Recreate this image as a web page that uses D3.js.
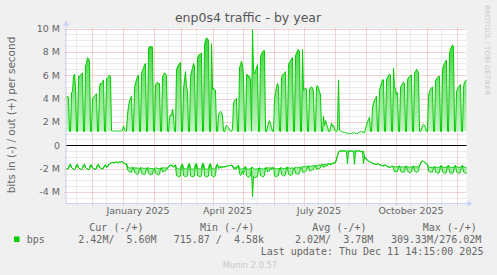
<!DOCTYPE html>
<html>
<head>
<meta charset="utf-8">
<script src="https://cdn.jsdelivr.net/npm/d3@7"></script>
<style>
body { margin: 0; background: #f0f0f0; }
text { font-family: "DejaVu Sans", sans-serif; }
.mono { font-family: "DejaVu Sans Mono", monospace; white-space: pre; }
</style>
</head>
<body>
<div id="chart-area"></div>
<script>
/*
*    enp0s4 traffic - by year (munin)
*/

// one value per day, starting Wed 6 Nov 2024, in Mbit/s ; one week per line (Mon..Sun)
var startDay = new Date(2024, 10, 6);
var endDay = new Date(2025, 11, 11);

// out : daytime level
var bpsOut = [
                4.1, 4.2, 4.1, 1.2, 1.15,
    4.5, 4.6, 5.9, 6.1, 5.0, 1.2, 1.15,
    5.9, 5.9, 6.0, 6.1, 6.2, 1.2, 1.15,
    6.8, 7.0, 7.5, 7.4, 7.2, 1.2, 1.15,
    4.0, 4.1, 4.2, 4.3, 4.4, 1.2, 1.15,
    5.0, 5.3, 5.2, 5.4, 5.6, 1.2, 1.15,
    5.7, 5.8, 5.9, 6.0, 5.9, 1.25, 1.2,
    1.25, 1.2, 1.2, 1.2, 1.25, 1.2, 1.2,
    1.25, 1.2, 1.3, 1.65, 1.25, 1.2, 1.2,
    2.6, 3.3, 3.8, 4.0, 4.2, 1.2, 1.15,
    4.9, 5.3, 5.6, 5.9, 6.0, 1.2, 1.15,
    6.2, 6.4, 6.6, 6.9, 7.0, 1.2, 1.15,
    8.2, 8.5, 8.3, 8.5, 8.4, 1.2, 1.15,
    5.2, 5.3, 5.4, 5.2, 5.3, 1.2, 1.15,
    5.9, 6.0, 6.2, 6.1, 6.0, 1.2, 1.15,
    2.4, 2.6, 2.5, 3.1, 2.5, 1.2, 1.15,
    6.5, 6.7, 6.9, 7.0, 7.1, 1.2, 1.15,
    4.8, 5.6, 6.3, 5.0, 4.7, 1.2, 1.15,
    5.9, 6.3, 6.6, 7.0, 6.8, 1.2, 1.15,
    7.5, 7.7, 7.8, 7.8, 7.9, 1.2, 1.15,
    8.6, 9.0, 9.2, 9.1, 9.0, 1.2, 1.15,
    8.7, 4.8, 4.9, 4.7, 4.7, 1.2, 1.15,
    2.6, 2.8, 2.9, 2.8, 2.5, 1.2, 1.15,
    1.5, 1.7, 1.6, 1.5, 1.3, 1.2, 1.2,
    1.4, 3.6, 3.8, 3.9, 4.0, 1.2, 1.15,
    6.6, 6.9, 7.2, 6.8, 6.0, 1.2, 1.15,
    6.0, 6.1, 5.8, 5.9, 5.6, 1.2, 9.9,
    6.3, 6.1, 6.4, 6.6, 6.9, 1.2, 1.15,
    7.6, 7.8, 8.0, 8.1, 8.1, 1.2, 1.15,
    1.6, 1.9, 2.1, 1.8, 1.5, 1.2, 1.15,
    3.9, 4.5, 5.0, 5.3, 5.0, 1.2, 1.15,
    5.8, 6.0, 6.1, 6.2, 6.3, 1.2, 1.15,
    6.9, 7.1, 7.2, 7.4, 7.5, 1.2, 1.15,
    7.7, 7.9, 8.1, 8.2, 8.0, 1.2, 1.15,
    8.2, 4.7, 4.8, 4.9, 4.8, 1.2, 1.15,
    4.8, 4.9, 5.0, 4.9, 4.6, 1.2, 1.15,
    5.0, 5.1, 4.9, 4.6, 4.3, 1.2, 1.15,
    2.5, 1.7, 2.1, 1.8, 1.6, 1.2, 1.15,
    1.5, 1.9, 1.6, 1.7, 1.4, 1.2, 1.15,
    1.4, 5.6, 1.3, 1.2, 1.2, 1.1, 1.1,
    1.1, 1.1, 1.0, 1.05, 1.0, 1.0, 1.0,
    1.0, 1.05, 1.0, 1.1, 1.0, 1.0, 1.0,
    1.1, 1.1, 1.2, 1.1, 1.2, 1.05, 1.05,
    1.4, 1.7, 2.0, 2.2, 2.4, 1.2, 1.15,
    3.2, 3.6, 3.9, 4.0, 4.2, 1.2, 1.15,
    4.7, 5.0, 5.3, 5.6, 5.6, 1.2, 1.15,
    5.6, 5.8, 6.0, 6.1, 6.0, 1.2, 1.15,
    6.6, 5.0, 4.8, 4.3, 4.5, 1.2, 1.15,
    5.0, 5.1, 5.3, 5.4, 5.3, 1.2, 1.15,
    5.6, 5.8, 5.9, 6.0, 6.0, 1.2, 1.15,
    6.2, 6.3, 6.5, 6.4, 6.2, 1.2, 1.15,
    1.4, 1.7, 1.8, 1.7, 1.5, 1.2, 1.15,
    4.2, 4.6, 4.8, 4.9, 5.0, 1.2, 1.15,
    5.5, 5.7, 5.8, 5.9, 5.9, 1.2, 1.15,
    6.5, 6.8, 7.0, 7.2, 7.3, 1.2, 1.15,
    7.9, 8.2, 8.4, 8.6, 8.4, 1.2, 1.15,
    4.6, 4.8, 5.0, 5.1, 5.2, 1.2, 1.15,
    5.0, 5.4, 5.5, 5.6
];
// out : night-time floor under the weekday columns
var outNightLevel = 1.2;

// in : daytime level (drawn below zero)
var bpsIn = [
                2.0, 2.05, 2.0, 1.7, 1.65,
    1.9, 2.0, 2.05, 2.1, 2.0, 1.7, 1.65,
    1.95, 2.0, 2.05, 2.1, 2.0, 1.7, 1.65,
    1.9, 2.0, 2.05, 2.1, 2.05, 1.7, 1.7,
    1.95, 2.0, 2.05, 2.05, 2.0, 1.7, 1.65,
    1.9, 1.95, 2.0, 2.05, 1.95, 1.75, 1.7,
    1.9, 1.85, 1.7, 1.6, 1.55, 1.5, 1.5,
    1.5, 1.5, 1.45, 1.45, 1.5, 1.45, 1.45,
    1.45, 1.4, 1.45, 1.5, 1.55, 1.6, 1.6,
    2.1, 2.2, 2.3, 2.3, 2.35, 1.9, 1.95,
    2.3, 2.4, 2.45, 2.5, 2.45, 2.0, 1.95,
    2.4, 2.45, 2.5, 2.5, 2.45, 2.0, 1.95,
    2.4, 2.5, 2.55, 2.5, 2.5, 2.05, 2.0,
    2.4, 2.45, 2.5, 2.55, 2.5, 2.0, 1.95,
    2.3, 2.25, 2.2, 2.2, 2.15, 1.95, 1.9,
    1.8, 1.75, 1.75, 1.8, 1.9, 1.75, 1.7,
    2.6, 2.65, 2.7, 2.7, 2.65, 1.7, 1.65,
    2.6, 2.65, 2.7, 2.7, 2.6, 1.65, 1.6,
    2.6, 2.7, 2.7, 2.7, 2.65, 1.65, 1.6,
    2.6, 2.65, 2.7, 2.7, 2.6, 1.6, 1.6,
    2.6, 2.7, 2.75, 2.7, 2.65, 1.65, 1.6,
    2.6, 2.65, 2.7, 2.7, 2.6, 1.7, 1.65,
    2.0, 1.95, 1.9, 1.95, 1.9, 1.85, 1.85,
    1.85, 1.8, 1.8, 1.75, 1.75, 1.75, 1.7,
    1.8, 2.0, 2.1, 2.0, 2.05, 1.8, 1.75,
    2.4, 2.6, 2.5, 2.2, 2.5, 1.9, 1.85,
    2.6, 2.7, 2.75, 2.7, 2.65, 1.9, 4.4,
    2.7, 2.75, 2.8, 2.75, 2.7, 2.0, 1.95,
    2.6, 2.65, 2.7, 2.7, 2.6, 1.95, 1.95,
    2.3, 2.2, 2.2, 2.0, 2.1, 1.95, 1.9,
    2.6, 2.7, 2.7, 2.65, 2.6, 2.0, 1.95,
    2.5, 2.6, 2.65, 2.6, 2.55, 1.95, 1.9,
    2.5, 2.55, 2.6, 2.55, 2.5, 2.0, 1.95,
    2.4, 2.45, 2.5, 2.45, 2.4, 1.95, 1.9,
    2.3, 2.35, 2.3, 2.25, 2.2, 1.85, 1.8,
    2.2, 2.2, 2.15, 2.1, 2.1, 1.8, 1.75,
    2.1, 2.05, 2.0, 2.0, 1.95, 1.7, 1.65,
    1.9, 1.85, 1.8, 1.8, 1.75, 1.6, 1.6,
    1.7, 1.65, 1.6, 1.55, 1.55, 1.5, 1.2,
    0.9, 0.6, 0.5, 0.5, 0.5, 0.5, 0.5,
    0.5, 0.5, 0.55, 1.6, 0.5, 0.5, 0.5,
    0.5, 0.5, 0.55, 1.65, 0.5, 0.5, 0.5,
    0.5, 0.5, 0.55, 0.5, 0.55, 1.6, 1.0,
    1.1, 1.2, 1.3, 1.35, 1.4, 1.45, 1.5,
    1.55, 1.6, 1.6, 1.65, 1.65, 1.6, 1.6,
    1.7, 1.7, 1.75, 1.75, 1.8, 1.7, 1.7,
    1.8, 1.85, 1.85, 1.9, 1.9, 1.8, 1.8,
    2.0, 2.3, 2.2, 2.3, 2.25, 1.85, 1.8,
    2.2, 2.3, 2.35, 2.3, 2.3, 1.85, 1.8,
    2.2, 2.3, 2.35, 2.35, 2.3, 1.85, 1.8,
    2.2, 2.3, 2.35, 2.3, 2.2, 1.8, 1.6,
    1.4, 1.35, 1.4, 1.45, 1.5, 1.6, 1.7,
    2.2, 2.3, 2.35, 2.3, 2.3, 1.9, 1.85,
    2.3, 2.35, 2.4, 2.4, 2.35, 1.8, 1.75,
    2.3, 2.35, 2.4, 2.4, 2.35, 1.8, 1.75,
    2.3, 2.4, 2.4, 2.4, 2.35, 1.8, 1.75,
    2.3, 2.35, 2.4, 2.4, 2.35, 1.8, 1.75,
    2.3, 2.35, 2.4, 2.42
];

// in : night-time level
var bpsInNight = [
                2.0, 2.05, 2.0, 1.7, 1.65,
    1.9, 2.0, 2.05, 2.1, 2.0, 1.7, 1.65,
    1.95, 2.0, 2.05, 2.1, 2.0, 1.7, 1.65,
    1.9, 2.0, 2.05, 2.1, 2.05, 1.7, 1.7,
    1.95, 2.0, 2.05, 2.05, 2.0, 1.7, 1.65,
    1.9, 1.95, 2.0, 2.05, 1.95, 1.75, 1.7,
    1.9, 1.85, 1.7, 1.6, 1.55, 1.5, 1.5,
    1.5, 1.5, 1.45, 1.45, 1.5, 1.45, 1.45,
    1.45, 1.4, 1.45, 1.5, 1.55, 1.6, 1.6,
    1.9, 1.9, 1.95, 1.95, 1.95, 1.9, 1.95,
    1.95, 1.95, 1.95, 2.0, 1.95, 2.0, 1.95,
    1.95, 1.95, 2.0, 2.0, 1.95, 2.0, 1.95,
    1.95, 2.0, 2.0, 2.0, 2.0, 2.05, 2.0,
    1.95, 1.95, 2.0, 2.0, 2.0, 2.0, 1.95,
    1.95, 1.95, 1.95, 1.95, 1.95, 1.95, 1.9,
    1.75, 1.7, 1.7, 1.75, 1.8, 1.75, 1.7,
    2.0, 2.0, 2.05, 2.05, 2.0, 1.7, 1.65,
    2.0, 2.0, 2.05, 2.05, 2.0, 1.65, 1.6,
    2.0, 2.05, 2.05, 2.05, 2.0, 1.65, 1.6,
    2.0, 2.0, 2.05, 2.05, 2.0, 1.6, 1.6,
    2.0, 2.05, 2.05, 2.05, 2.0, 1.65, 1.6,
    2.0, 2.0, 2.05, 2.05, 2.0, 1.7, 1.65,
    1.9, 1.85, 1.85, 1.85, 1.85, 1.85, 1.85,
    1.85, 1.8, 1.8, 1.75, 1.75, 1.75, 1.7,
    1.75, 1.9, 1.95, 1.9, 1.95, 1.8, 1.75,
    2.0, 2.05, 2.05, 2.0, 2.0, 1.9, 1.85,
    2.0, 2.05, 2.05, 2.05, 2.0, 1.9, 1.9,
    2.0, 2.05, 2.05, 2.05, 2.0, 2.0, 1.95,
    2.0, 2.0, 2.05, 2.05, 2.0, 1.95, 1.95,
    1.95, 1.95, 1.95, 1.95, 1.95, 1.95, 1.9,
    2.0, 2.0, 2.05, 2.0, 2.0, 2.0, 1.95,
    1.95, 2.0, 2.0, 2.0, 1.95, 1.95, 1.9,
    1.95, 1.95, 2.0, 1.95, 1.95, 2.0, 1.95,
    1.9, 1.9, 1.95, 1.9, 1.9, 1.95, 1.9,
    1.85, 1.85, 1.85, 1.8, 1.8, 1.85, 1.8,
    1.8, 1.8, 1.8, 1.75, 1.75, 1.8, 1.75,
    1.75, 1.75, 1.7, 1.7, 1.7, 1.7, 1.65,
    1.65, 1.65, 1.65, 1.65, 1.6, 1.6, 1.6,
    1.6, 1.6, 1.55, 1.55, 1.5, 1.5, 1.2,
    0.9, 0.6, 0.5, 0.5, 0.5, 0.5, 0.5,
    0.5, 0.5, 0.55, 0.5, 0.5, 0.5, 0.5,
    0.5, 0.5, 0.55, 0.5, 0.5, 0.5, 0.5,
    0.5, 0.5, 0.55, 0.5, 0.55, 0.5, 1.0,
    1.1, 1.2, 1.3, 1.35, 1.4, 1.45, 1.5,
    1.55, 1.6, 1.6, 1.65, 1.65, 1.6, 1.6,
    1.7, 1.7, 1.75, 1.75, 1.8, 1.7, 1.7,
    1.8, 1.85, 1.85, 1.9, 1.9, 1.8, 1.8,
    1.85, 1.85, 1.85, 1.85, 1.85, 1.85, 1.8,
    1.85, 1.85, 1.9, 1.85, 1.85, 1.85, 1.8,
    1.85, 1.85, 1.9, 1.9, 1.85, 1.85, 1.8,
    1.85, 1.85, 1.9, 1.85, 1.8, 1.8, 1.6,
    1.4, 1.35, 1.4, 1.45, 1.5, 1.6, 1.7,
    1.85, 1.9, 1.9, 1.9, 1.9, 1.9, 1.85,
    1.85, 1.9, 1.9, 1.9, 1.9, 1.8, 1.75,
    1.85, 1.9, 1.9, 1.9, 1.9, 1.8, 1.75,
    1.85, 1.9, 1.9, 1.9, 1.9, 1.8, 1.75,
    1.85, 1.9, 1.9, 1.9, 1.9, 1.8, 1.75,
    1.85, 1.9, 1.9, 1.95
];

var yTicks = [10, 8, 6, 4, 2, 0, -2, -4];
var yTickLabels = ["10 M", "8 M", "6 M", "4 M", "2 M", "0", "-2 M", "-4 M"];
var xLabelMonths = [new Date(2025, 0, 1), new Date(2025, 3, 1), new Date(2025, 6, 1), new Date(2025, 9, 1)];

var legendHeads = ["Cur (-/+)", "Min (-/+)", "Avg (-/+)", "Max (-/+)"];
var legendValues = ["2.42M/  5.60M", "715.87 /  4.58k", "2.02M/  3.78M", "309.33M/276.02M"];
var seriesName = "bps";
var lastUpdate = "Last update: Thu Dec 11 14:15:00 2025";

var svg = d3.select("#chart-area").append("svg")
    .attr("width", 497)
    .attr("height", 275);

svg.append("rect")
    .attr("width", 497)
    .attr("height", 275)
    .attr("fill", "#f0f0f0");

var pLeft = 66.5, pRight = 466.5, pTop = 28.5, pBottom = 203.5;

var x = d3.scaleTime().domain([startDay, endDay]).range([pLeft, pRight]);
var y = d3.scaleLinear().domain([-5, 10]).range([pBottom, pTop]);

// canvas
svg.append("rect")
    .attr("x", pLeft)
    .attr("y", pTop)
    .attr("width", pRight - pLeft)
    .attr("height", pBottom - pTop)
    .attr("fill", "#ffffff");

var minorColor = "#d6d6d6", majorColor = "#eea4a4";

// minor grid
var minorY = d3.range(-4.5, 10, 0.5).filter(function(v) { return v % 2 !== 0; });
svg.selectAll(".minor-y").data(minorY).enter().append("line")
    .attr("x1", pLeft - 2).attr("x2", pRight)
    .attr("y1", function(d) { return Math.round(y(d)) + 0.5; })
    .attr("y2", function(d) { return Math.round(y(d)) + 0.5; })
    .attr("stroke", minorColor)
    .attr("stroke-dasharray", "1,1");

var midMonths = d3.timeMonth.range(new Date(2024, 10, 1), endDay)
    .map(function(m) { return d3.timeDay.offset(m, 14); })
    .filter(function(d) { return d > startDay && d < endDay; });
svg.selectAll(".minor-x").data(midMonths).enter().append("line")
    .attr("x1", function(d) { return Math.round(x(d)) + 0.5; })
    .attr("x2", function(d) { return Math.round(x(d)) + 0.5; })
    .attr("y1", pTop).attr("y2", pBottom + 2)
    .attr("stroke", minorColor)
    .attr("stroke-dasharray", "1,1");

// major grid
svg.selectAll(".major-y").data(yTicks.filter(function(v) { return v !== 0; })).enter().append("line")
    .attr("x1", pLeft - 2).attr("x2", pRight)
    .attr("y1", function(d) { return Math.round(y(d)) + 0.5; })
    .attr("y2", function(d) { return Math.round(y(d)) + 0.5; })
    .attr("stroke", majorColor)
    .attr("stroke-dasharray", "1,1");

var monthStarts = d3.timeMonth.range(startDay, endDay);
svg.selectAll(".major-x").data(monthStarts).enter().append("line")
    .attr("x1", function(d) { return Math.round(x(d)) + 0.5; })
    .attr("x2", function(d) { return Math.round(x(d)) + 0.5; })
    .attr("y1", pTop).attr("y2", pBottom + 2)
    .attr("stroke", majorColor)
    .attr("stroke-dasharray", "1,1");

// axes with arrows
var axisColor = "#c9d1f5";
svg.append("line")
    .attr("x1", pLeft - 0.5).attr("x2", pLeft - 0.5)
    .attr("y1", pBottom).attr("y2", pTop - 4)
    .attr("stroke", axisColor);
svg.append("line")
    .attr("x1", pLeft - 0.5).attr("x2", pRight + 2)
    .attr("y1", pBottom).attr("y2", pBottom)
    .attr("stroke", axisColor);
svg.append("path")
    .attr("d", "M" + (pLeft - 3.5) + "," + (pTop - 3) + "L" + (pLeft - 0.5) + "," + (pTop - 8) + "L" + (pLeft + 2.5) + "," + (pTop - 3) + "Z")
    .attr("fill", axisColor);
svg.append("path")
    .attr("d", "M" + (pRight + 1) + "," + (pBottom - 3) + "L" + (pRight + 6) + "," + pBottom + "L" + (pRight + 1) + "," + (pBottom + 3) + "Z")
    .attr("fill", axisColor);

// y labels
svg.selectAll(".ylab").data(yTicks).enter().append("text")
    .attr("x", 60)
    .attr("y", function(d) { return y(d) + 3.5; })
    .attr("text-anchor", "end")
    .attr("font-size", 9.5)
    .attr("fill", "#666")
    .text(function(d, i) { return yTickLabels[i]; });

// x labels, centred on the month
var fmt = d3.timeFormat("%B %Y");
svg.selectAll(".xlab").data(xLabelMonths).enter().append("text")
    .attr("x", function(d) { return (x(d) + x(d3.timeMonth.offset(d, 1))) / 2; })
    .attr("y", 214)
    .attr("text-anchor", "middle")
    .attr("font-size", 9.5)
    .attr("fill", "#666")
    .text(function(d) { return fmt(d); });

// zero line
svg.append("line")
    .attr("x1", pLeft).attr("x2", pRight)
    .attr("y1", Math.round(y(0)) + 0.5).attr("y2", Math.round(y(0)) + 0.5)
    .attr("stroke", "#000");

// series
var green = "#00cc00";
var defs = svg.append("defs");
var grad = defs.append("linearGradient")
    .attr("id", "outFill")
    .attr("gradientUnits", "userSpaceOnUse")
    .attr("x1", 0).attr("x2", 0)
    .attr("y1", y(9)).attr("y2", y(outNightLevel));
grad.append("stop").attr("offset", 0).attr("stop-color", "#3fd43f");
grad.append("stop").attr("offset", 1).attr("stop-color", "#c4f2c4");

var dayX = function(d, i) { return x(d3.timeDay.offset(startDay, i)); };

var areaOut = d3.area()
    .x(dayX)
    .y0(y(outNightLevel))
    .y1(function(d) { return y(Math.max(d, outNightLevel)); });
var lineOut = d3.line().x(dayX).y(function(d) { return y(d); });

var areaIn = d3.area()
    .x(dayX)
    .y0(function(d, i) { return y(-bpsInNight[i]); })
    .y1(function(d) { return y(-d); });
var lineIn = d3.line().x(dayX).y(function(d) { return y(-d); });

svg.append("path")
    .attr("d", areaOut(bpsOut))
    .attr("fill", "url(#outFill)");
svg.append("path")
    .attr("d", areaIn(bpsIn))
    .attr("fill", "#a8eaa8");

svg.append("path")
    .attr("d", lineIn(bpsInNight))
    .attr("fill", "none")
    .attr("stroke", green)
    .attr("stroke-width", 1);
svg.append("path")
    .attr("d", lineIn(bpsIn))
    .attr("fill", "none")
    .attr("stroke", green)
    .attr("stroke-width", 1);
svg.append("path")
    .attr("d", lineOut(bpsOut))
    .attr("fill", "none")
    .attr("stroke", green)
    .attr("stroke-width", 1);

// titles
svg.append("text")
    .attr("x", 248)
    .attr("y", 22)
    .attr("text-anchor", "middle")
    .attr("font-size", 12.5)
    .attr("fill", "#555")
    .text("enp0s4 traffic - by year");

svg.append("text")
    .attr("transform", "translate(15,115) rotate(-90)")
    .attr("text-anchor", "middle")
    .attr("font-size", 10.5)
    .attr("fill", "#666")
    .text("bits in (-) / out (+) per second");

svg.append("text")
    .attr("transform", "translate(485,5) rotate(90)")
    .attr("font-size", 7)
    .attr("fill", "#c8c8c8")
    .text("RRDTOOL / TOBI OETIKER");

// legend
var headX = [89.3, 200, 312.3, 422.7];
var valX = [78.3, 173.7, 295, 391];
svg.selectAll(".lhead").data(legendHeads).enter().append("text")
    .attr("class", "mono")
    .attr("x", function(d, i) { return headX[i]; })
    .attr("y", 230.5)
    .attr("font-size", 10)
    .attr("fill", "#666")
    .text(function(d) { return d; });

svg.append("rect")
    .attr("x", 14).attr("y", 236.5)
    .attr("width", 5.5).attr("height", 5.5)
    .attr("fill", green);
svg.append("text")
    .attr("class", "mono")
    .attr("x", 26.7).attr("y", 242.5)
    .attr("font-size", 10)
    .attr("fill", "#666")
    .text(seriesName);
svg.selectAll(".lval").data(legendValues).enter().append("text")
    .attr("class", "mono")
    .attr("x", function(d, i) { return valX[i]; })
    .attr("y", 242.5)
    .attr("font-size", 10)
    .attr("fill", "#666")
    .text(function(d) { return d; });

svg.append("text")
    .attr("class", "mono")
    .attr("x", 260.7).attr("y", 254.5)
    .attr("font-size", 10)
    .attr("fill", "#666")
    .text(lastUpdate);

svg.append("text")
    .attr("x", 250).attr("y", 268)
    .attr("text-anchor", "middle")
    .attr("font-size", 8.3)
    .attr("fill", "#c8c8c8")
    .text("Munin 2.0.57");
</script>
</body>
</html>
